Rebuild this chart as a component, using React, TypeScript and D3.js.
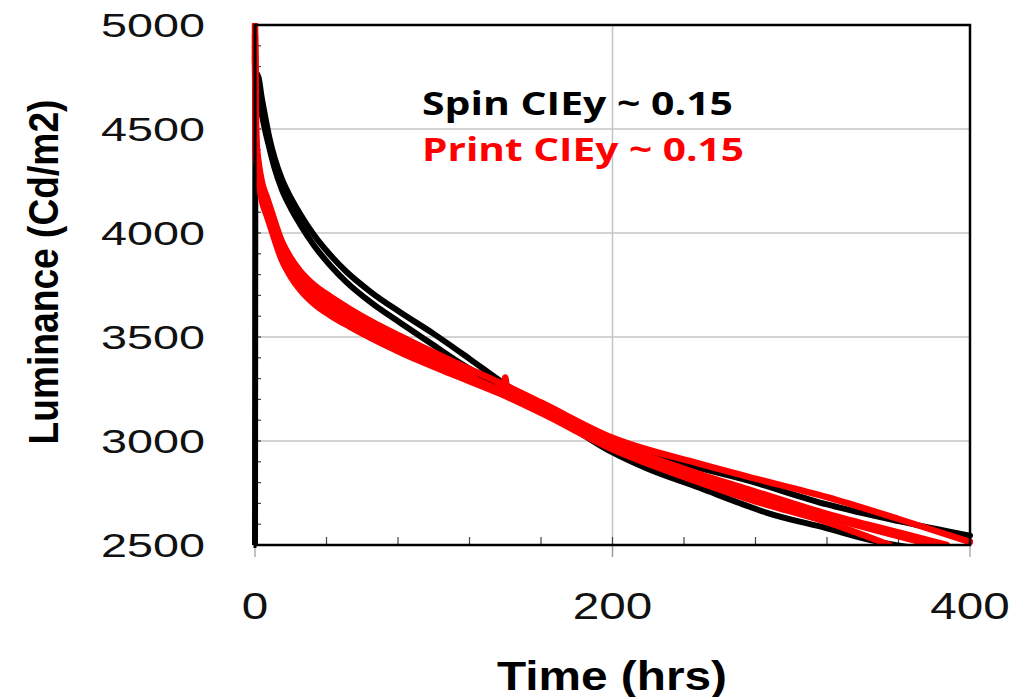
import React from 'react';
import * as d3 from 'd3';

// luminance decay traces, [hours, Cd/m2]
const spinLower: [number, number][] = [
  [0, 2400], [0.3, 4770], [2, 4748], [3.5, 4665], [5.6, 4565], [8, 4460], [11, 4360], [15, 4260],
  [20, 4170], [25, 4095], [33, 3990], [42, 3895], [51, 3815], [65, 3715], [81, 3620], [100, 3515],
  [120, 3395], [137, 3290], [165, 3135], [200, 2945], [220, 2865], [249, 2774], [270, 2705],
  [286, 2656], [320, 2580], [345, 2522], [365, 2490],
];
const spinUpper: [number, number][] = [
  [0.3, 4730], [1.5, 4715], [3, 4610], [5, 4520], [8, 4410], [11, 4310], [15, 4210], [20, 4120],
  [25, 4045], [33, 3940], [42, 3845], [51, 3765], [65, 3665], [81, 3570], [100, 3460],
  [113, 3385], [140, 3250], [170, 3120], [200, 3000], [240, 2890], [275, 2812], [320, 2695],
  [360, 2615], [400, 2545],
];
const print1: [number, number][] = [
  [0, 5000], [0.3, 4700], [1, 4420], [2, 4340], [4, 4240], [6.5, 4175], [9, 4110], [15, 3960],
  [20, 3880], [25, 3820], [33, 3750], [42, 3695], [53, 3635], [65, 3575], [81, 3505], [110, 3385],
  [137, 3280], [160, 3185], [200, 3015], [249, 2890], [275, 2830], [320, 2730], [360, 2625],
  [400, 2515],
];
const print2: [number, number][] = [
  [0, 4950], [0.5, 4400], [1, 4390], [2, 4310], [4, 4210], [6.5, 4145], [9, 4080], [15, 3930],
  [20, 3850], [25, 3790], [33, 3720], [42, 3665], [53, 3605], [65, 3548], [81, 3478], [110, 3362],
  [139, 3250], [140, 3305], [141, 3248], [160, 3168], [200, 2995], [249, 2840], [275, 2770],
  [320, 2650], [360, 2560], [387, 2500],
];
const print3: [number, number][] = [
  [0, 4900], [0.5, 4370], [1, 4360], [2, 4280], [4, 4180], [6.5, 4115], [9, 4050], [15, 3900],
  [20, 3820], [25, 3760], [33, 3690], [42, 3635], [53, 3578], [65, 3520], [81, 3452], [110, 3342],
  [137, 3245], [160, 3150], [200, 2975], [249, 2820], [280, 2740], [320, 2635], [379, 2500],
];
const print4: [number, number][] = [
  [0, 4850], [0.5, 4340], [1, 4330], [2, 4250], [4, 4150], [6.5, 4085], [9, 4020], [15, 3870],
  [20, 3790], [25, 3730], [33, 3660], [42, 3605], [53, 3550], [65, 3495], [81, 3428], [110, 3322],
  [137, 3228], [160, 3135], [200, 2960], [249, 2800], [280, 2710], [320, 2610], [355, 2500],
];

const spinSeries = [spinLower, spinUpper];
const printSeries = [print1, print2, print3, print4];

const yTicks = [2500, 3000, 3500, 4000, 4500, 5000];
const xTicks = [0, 200, 400];
const xMinor = d3.range(0, 401, 40);
const yMinor = d3.range(2500, 5001, 100);

const W = 1019;
const H = 697;
const left = 255, right = 970, top = 25, bottom = 545;

export default function App() {
  const x = d3.scaleLinear().domain([0, 400]).range([left, right]);
  const y = d3.scaleLinear().domain([2500, 5000]).range([bottom, top]);
  const line = d3.line<[number, number]>()
    .x(d => x(d[0]))
    .y(d => y(d[1]))
    .curve(d3.curveMonotoneX);

  return (
    <svg width={W} height={H} style={{ position: 'absolute', left: 0, top: 0, background: '#fff' }}
      fontFamily="'Liberation Sans', Arial, sans-serif">
      <defs>
        <clipPath id="plot">
          <rect x={left - 5} y={top - 2} width={right - left + 8} height={bottom - top + 2} />
        </clipPath>
      </defs>

      {/* gridlines */}
      {yTicks.slice(1, -1).map(v => (
        <line key={v} x1={left} x2={right} y1={y(v)} y2={y(v)} stroke="#c4c4c4" strokeWidth={1.5} />
      ))}
      <line x1={x(200)} x2={x(200)} y1={top} y2={bottom + 12} stroke="#c4c4c4" strokeWidth={1.5} />

      {/* minor ticks */}
      {yMinor.map(v => (
        <line key={v} x1={left} x2={left + 6} y1={y(v)} y2={y(v)} stroke="#444" strokeWidth={1.2} />
      ))}
      {xMinor.map(v => (
        <line key={v} x1={x(v)} x2={x(v)} y1={bottom} y2={bottom - 8} stroke="#444" strokeWidth={1.2} />
      ))}
      {xTicks.map(v => (
        <line key={v} x1={x(v)} x2={x(v)} y1={bottom} y2={bottom + 12} stroke="#999" strokeWidth={1.2} />
      ))}

      {/* data */}
      <g clipPath="url(#plot)" fill="none" strokeLinejoin="round" strokeLinecap="round">
        {spinSeries.map((s, i) => (
          <path key={'s' + i} d={line(s) || ''} stroke="#000" strokeWidth={6} />
        ))}
        {printSeries.map((s, i) => (
          <path key={'p' + i} d={line(s) || ''} stroke="#ff0000" strokeWidth={6.5} />
        ))}
      </g>

      {/* frame */}
      <rect x={left} y={top} width={right - left} height={bottom - top} fill="none" stroke="#000" strokeWidth={2.5} />
      <line x1={left} x2={left} y1={top} y2={bottom + 3} stroke="#000" strokeWidth={3} />

      {/* y tick labels */}
      {yTicks.map(v => (
        <text key={v} x={205} y={y(v)} dy="0.36em" textAnchor="end" fontSize={33} fill="#111"
          textLength={104} lengthAdjust="spacingAndGlyphs">{v}</text>
      ))}
      {/* x tick labels */}
      {xTicks.map(v => (
        <text key={v} x={x(v)} y={619} textAnchor="middle" fontSize={36} fill="#111"
          textLength={String(v).length * 26.5} lengthAdjust="spacingAndGlyphs">{v}</text>
      ))}

      <text x={612} y={690} textAnchor="middle" fontSize={40} fontWeight="bold" fill="#000"
        textLength={230} lengthAdjust="spacingAndGlyphs">Time (hrs)</text>
      <text transform="translate(58,272) rotate(-90)" textAnchor="middle" fontSize={42} fontWeight="bold"
        fill="#000" textLength={345} lengthAdjust="spacingAndGlyphs">Luminance (Cd/m2)</text>

      <text x={422} y={115} fontSize={32} fontWeight="bold" fill="#000" fontFamily="'Open Sans', sans-serif"
        textLength={311} lengthAdjust="spacingAndGlyphs">Spin CIEy ~ 0.15</text>
      <text x={422} y={161} fontSize={32} fontWeight="bold" fill="#ff0000" fontFamily="'Open Sans', sans-serif"
        textLength={322} lengthAdjust="spacingAndGlyphs">Print CIEy ~ 0.15</text>
    </svg>
  );
}
